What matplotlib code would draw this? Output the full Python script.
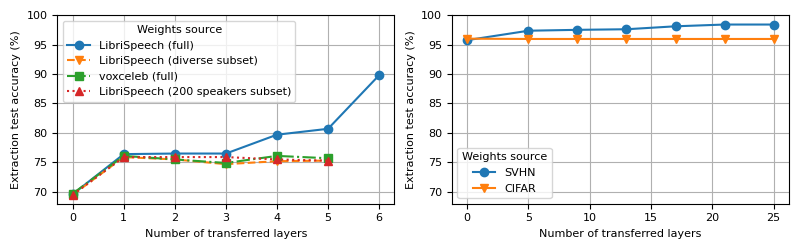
import matplotlib

matplotlib.use("Agg")

import matplotlib.pyplot as plt

# left panel: speech models
speech_layers = [0, 1, 2, 3, 4, 5, 6]
libri_full = [69.6, 76.4, 76.5, 76.5, 79.7, 80.7, 89.8]
libri_diverse = [69.5, 75.9, 75.5, 74.7, 75.2, 75.3]
voxceleb_full = [69.7, 76.1, 75.5, 74.9, 76.1, 75.7]
libri_200 = [69.5, 75.9, 75.9, 75.9, 75.5, 75.3]

# right panel: image models
image_layers = [0, 5, 9, 13, 17, 21, 25]
svhn = [95.75, 97.35, 97.5, 97.6, 98.1, 98.4, 98.4]
cifar = [96.0, 95.95, 95.95, 95.95, 95.95, 95.95, 95.95]

figure, (left, right) = plt.subplots(1, 2, figsize=(8, 2.5))

left.plot(speech_layers, libri_full, "o-", label="LibriSpeech (full)")
left.plot(speech_layers[:6], libri_diverse, "v--", label="LibriSpeech (diverse subset)")
left.plot(speech_layers[:6], voxceleb_full, "s-.", label="voxceleb (full)")
left.plot(speech_layers[:6], libri_200, "^:", label="LibriSpeech (200 speakers subset)")
left.legend(title="Weights source", loc="upper left", fontsize=8, title_fontsize=8)

right.plot(image_layers, svhn, "o-", label="SVHN")
right.plot(image_layers, cifar, "v-", label="CIFAR")
right.legend(title="Weights source", loc="lower left", fontsize=8, title_fontsize=8)

for axis in (left, right):
    axis.set_ylim(68, 100)
    axis.set_yticks(range(70, 101, 5))
    axis.grid(True)
    axis.set_xlabel("Number of transferred layers", fontsize=8)
    axis.set_ylabel("Extraction test accuracy (%)", fontsize=8)
    axis.tick_params(labelsize=8)

right.set_xticks(range(0, 26, 5))

figure.tight_layout(pad=0.8)
figure.savefig("out.png", dpi=100)
plt.close(figure)
